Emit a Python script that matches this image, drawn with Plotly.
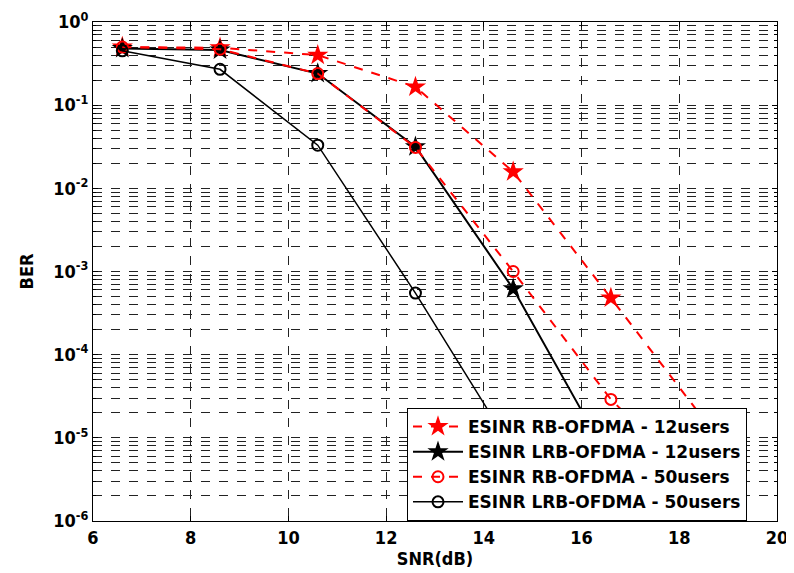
import plotly.graph_objects as go

snr = [6.6, 8.6, 10.6, 12.6, 14.6, 16.6, 18.6]

ber_rb_12 = [0.50, 0.49, 0.40, 0.166, 0.0158, 4.8e-4, 1.4e-5]
ber_lrb_12 = [0.48, 0.46, 0.24, 0.0316, 6.2e-4, 5.0e-6]
ber_rb_50 = [0.50, 0.47, 0.24, 0.031, 1.0e-3, 2.9e-5, 2.0e-6]
ber_lrb_50 = [0.45, 0.27, 0.033, 5.5e-4, 7.0e-6]

names = ["ESINR RB-OFDMA - 12users", "ESINR LRB-OFDMA - 12users",
         "ESINR RB-OFDMA - 50users", "ESINR LRB-OFDMA - 50users"]

x_ticks = [6, 8, 10, 12, 14, 16, 18, 20]
y_tickvals = [1e-6, 1e-5, 1e-4, 1e-3, 1e-2, 1e-1, 1]
y_ticktext = ["10<sup>-6</sup>", "10<sup>-5</sup>", "10<sup>-4</sup>", "10<sup>-3</sup>",
              "10<sup>-2</sup>", "10<sup>-1</sup>", "10<sup>0</sup>"]
minor_vals = [m * 10 ** e for e in range(-6, 0) for m in range(2, 10)]

fig = go.Figure()
fig.add_trace(go.Scatter(x=snr[:len(ber_rb_12)], y=ber_rb_12, name=names[0], mode="lines+markers",
                         line=dict(color="#ff0000", width=2, dash="dash"),
                         marker=dict(symbol="star", size=16, color="#ff0000")))
fig.add_trace(go.Scatter(x=snr[:len(ber_lrb_12)], y=ber_lrb_12, name=names[1], mode="lines+markers",
                         line=dict(color="black", width=2),
                         marker=dict(symbol="star", size=16, color="black")))
fig.add_trace(go.Scatter(x=snr[:len(ber_rb_50)], y=ber_rb_50, name=names[2], mode="lines+markers",
                         line=dict(color="#ff0000", width=2, dash="dash"),
                         marker=dict(symbol="circle-open", size=11, color="#ff0000", line=dict(width=2))))
fig.add_trace(go.Scatter(x=snr[:len(ber_lrb_50)], y=ber_lrb_50, name=names[3], mode="lines+markers",
                         line=dict(color="black", width=1.5),
                         marker=dict(symbol="circle-open", size=11, color="black", line=dict(width=2))))

narrow = "DejaVu Sans Condensed, Liberation Sans Narrow, Liberation Sans, Arial"
axis_font = dict(family=narrow, size=18, color="black", weight="bold")

# the page body adds an 8px offset; margins compensate so the plot frame
# lands at x 93..777, y 22..521 on screen
fig.update_layout(
    width=794, height=573,
    margin=dict(l=85, r=25, t=14, b=60),
    paper_bgcolor="white", plot_bgcolor="white",
    font=axis_font,
    showlegend=True,
    legend=dict(x=(407 - 93) / 684, y=(521 - 408) / 499, xanchor="left", yanchor="top",
                bgcolor="white", bordercolor="black", borderwidth=1, itemwidth=50,
                font=dict(family="DejaVu Sans, Liberation Sans, Arial", size=17, color="black", weight="bold")),
    xaxis=dict(range=[6, 20], tickvals=x_ticks, ticks="inside", ticklen=5, tickcolor="black",
               showline=True, linecolor="black", linewidth=1, mirror="ticks",
               showgrid=True, gridcolor="#222222", griddash="dash", gridwidth=1,
               zeroline=False, tickfont=axis_font, automargin=False,
               title=dict(text="SNR(dB)", font=axis_font, standoff=2)),
    yaxis=dict(type="log", range=[-6, 0], tickvals=y_tickvals, ticktext=y_ticktext,
               ticks="inside", ticklen=5, tickcolor="black",
               showline=True, linecolor="black", linewidth=1, mirror="ticks",
               showgrid=True, gridcolor="#222222", griddash="dash", gridwidth=1,
               zeroline=False, tickfont=axis_font, automargin=False,
               minor=dict(tickvals=minor_vals, showgrid=True, gridcolor="#222222",
                          griddash="dash", gridwidth=1, ticks="inside", ticklen=3, tickcolor="black"),
               title=dict(text="BER", font=axis_font, standoff=14)),
)

fig.write_html("out.html")
